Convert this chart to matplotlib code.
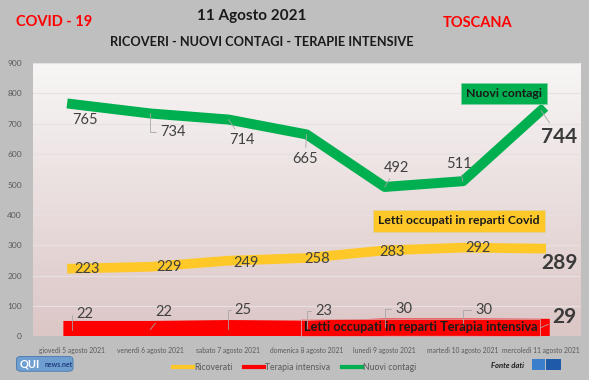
import numpy as np
import matplotlib.pyplot as plt
from matplotlib.colors import LinearSegmentedColormap
from matplotlib.patches import FancyBboxPatch, Rectangle

plt.rcParams['font.family'] = ['Lato', 'DejaVu Sans']

#################################################
days = ["giovedì 5 agosto 2021", "venerdì 6 agosto 2021", "sabato 7 agosto 2021",
        "domenica 8 agosto 2021", "lunedì 9 agosto 2021", "martedì 10 agosto 2021",
        "mercoledì 11 agosto 2021"]
ricoverati = [223, 229, 249, 258, 283, 292, 289]
terapia = [22, 22, 25, 23, 30, 30, 29]
contagi = [765, 734, 714, 665, 492, 511, 744]

# label positions (data coords)
lab_contagi = [(0.17, 713), (1.29, 673), (2.18, 647), (2.98, 585), (4.15, 555), (4.95, 568), (6.23, 657)]
lab_ricov = [(0.19, 223), (1.24, 227), (2.22, 243), (3.13, 253), (4.10, 279), (5.19, 292), (6.23, 240)]
lab_ter = [(0.16, 72), (1.18, 79), (2.19, 85), (3.22, 82), (4.24, 89), (5.27, 85), (6.30, 62)]

GREEN = "#00b050"
YELLOW = "#ffc829"
RED = "#ff0000"
TXT = "#404040"
#################################################

fig = plt.figure(figsize=(5.89, 3.80), dpi=100)
fig.patch.set_facecolor("#bfbfbf")

ax = fig.add_axes([0.056, 0.115, 0.929, 0.719])
x = np.arange(len(days))

# gradient plot area
cmap = LinearSegmentedColormap.from_list("bg", ["#dcc6c6", "#f8f6f6"])
grad = np.linspace(0, 1, 256).reshape(-1, 1)
ax.imshow(grad, extent=[-0.5, 6.5, 0, 900], aspect="auto", cmap=cmap,
          origin="lower", zorder=0)

ax.set_xlim(-0.5, 6.5)
ax.set_ylim(0, 900)
ax.set_yticks(range(0, 901, 100))
ax.grid(axis="y", color="#e6e0e0", lw=0.8, zorder=1)
for s in ax.spines.values():
    s.set_visible(False)
ax.tick_params(axis="y", length=0, pad=8, labelsize=6, labelcolor="#595959")
ax.set_xticks(x)
ax.set_xticklabels(days, fontsize=4.9, color="#595959")
ax.tick_params(axis="x", length=0, pad=8)

ax.plot(x, terapia, color=RED, lw=12.5, solid_capstyle="projecting", zorder=3,
        label="Terapia intensiva")
ax.plot(x, ricoverati, color=YELLOW, lw=7, solid_capstyle="projecting", zorder=3,
        label="Ricoverati")
ax.plot(x, contagi, color=GREEN, lw=7.2, solid_capstyle="projecting", zorder=3,
        label="Nuovi contagi")


def put_labels(vals, pos, leaders):
    n = len(vals)
    for i, (v, (lx, ly)) in enumerate(zip(vals, pos)):
        last = i == n - 1
        kw = dict(fontsize=15 if last else 10.5,
                  fontweight="bold" if last else "normal",
                  color="#3a3a3a" if last else TXT,
                  ha="center", va="center", zorder=6)
        if leaders[i]:
            conn = "angle,angleA=0,angleB=90,rad=0" if leaders[i] == "elbow" else "arc3"
            lead = dict(arrowstyle="-", color="#a6a6a6", lw=0.6, shrinkA=1, shrinkB=0,
                        connectionstyle=conn)
            ax.annotate(str(v), xy=(i, v), xytext=(lx, ly), arrowprops=lead, **kw)
        else:
            ax.text(lx, ly, str(v), **kw)


put_labels(contagi, lab_contagi, [None, "elbow", "line", "line", "line", "line", "line"])
put_labels(ricoverati, lab_ricov, [None] * 7)
put_labels(terapia, lab_ter, ["elbow", "line", "elbow", "elbow", "elbow", "elbow", "line"])

# series boxes
ax.text(5.53, 801, "Nuovi contagi", fontsize=8.8, fontweight="bold", color="#1a1a1a",
        ha="center", va="center", zorder=7,
        bbox=dict(boxstyle="square,pad=0.4", fc=GREEN, ec="#7fd0a0", lw=0.6))
ax.text(4.95, 381, "Letti occupati in reparti Covid", fontsize=8.8, fontweight="bold",
        color="#1a1a1a", ha="center", va="center", zorder=7,
        bbox=dict(boxstyle="square,pad=0.45", fc=YELLOW, ec="#e0d0a0", lw=0.6))
ax.text(4.46, 30, "Letti occupati in reparti Terapia intensiva", fontsize=9.2,
        fontweight="bold", color="#1a1a1a", ha="center", va="center", zorder=7,
        bbox=dict(boxstyle="square,pad=0.2", fc="none", ec="#d9a0a0", lw=0.6))

# titles
fig.text(0.092, 0.942, "COVID - 19", fontsize=10.5, fontweight="bold", color=RED,
         ha="center", va="center")
fig.text(0.81, 0.94, "TOSCANA", fontsize=10.5, fontweight="bold", color=RED,
         ha="center", va="center")
fig.text(0.428, 0.958, "11 Agosto 2021", fontsize=11, fontweight="bold",
         color="#1a1a1a", ha="center", va="center")
fig.text(0.445, 0.889, "RICOVERI - NUOVI CONTAGI - TERAPIE INTENSIVE", fontsize=9.2,
         fontweight="bold", color="#1a1a1a", ha="center", va="center")

# legend
h, l = ax.get_legend_handles_labels()
order = [1, 0, 2]
leg = fig.legend([h[k] for k in order], [l[k] for k in order], loc="center",
                 bbox_to_anchor=(0.5, 0.034), ncol=3, frameon=False, fontsize=6.2,
                 handlelength=2.4, columnspacing=1.3, handletextpad=0.1)
for t in leg.get_texts():
    t.set_color("#595959")
for ln in leg.get_lines():
    ln.set_linewidth(3)

# logos / source
fig.text(0.862, 0.037, "Fonte dati", fontsize=5.5, fontweight="bold", style="italic",
         color="#1a1a1a", ha="center", va="center")
fig.patches.append(Rectangle((0.904, 0.026), 0.021, 0.03, transform=fig.transFigure,
                             fc="#3a7fc9", ec="none"))
fig.patches.append(Rectangle((0.927, 0.026), 0.026, 0.03, transform=fig.transFigure,
                             fc="#1f5aa8", ec="none"))
fig.patches.append(FancyBboxPatch((0.030, 0.025), 0.092, 0.035,
                                  boxstyle="round,pad=0.002,rounding_size=0.008",
                                  transform=fig.transFigure, fc="#6f9fd0", ec="#4a78b0",
                                  lw=0.6))
fig.text(0.033, 0.043, "QUI", fontsize=8, fontweight="bold", color="white",
         ha="left", va="center")
fig.text(0.075, 0.041, "news.net", fontsize=5, fontweight="bold", color="#1f3f80",
         ha="left", va="center")

fig.savefig("out.png", dpi=100, facecolor=fig.get_facecolor())
